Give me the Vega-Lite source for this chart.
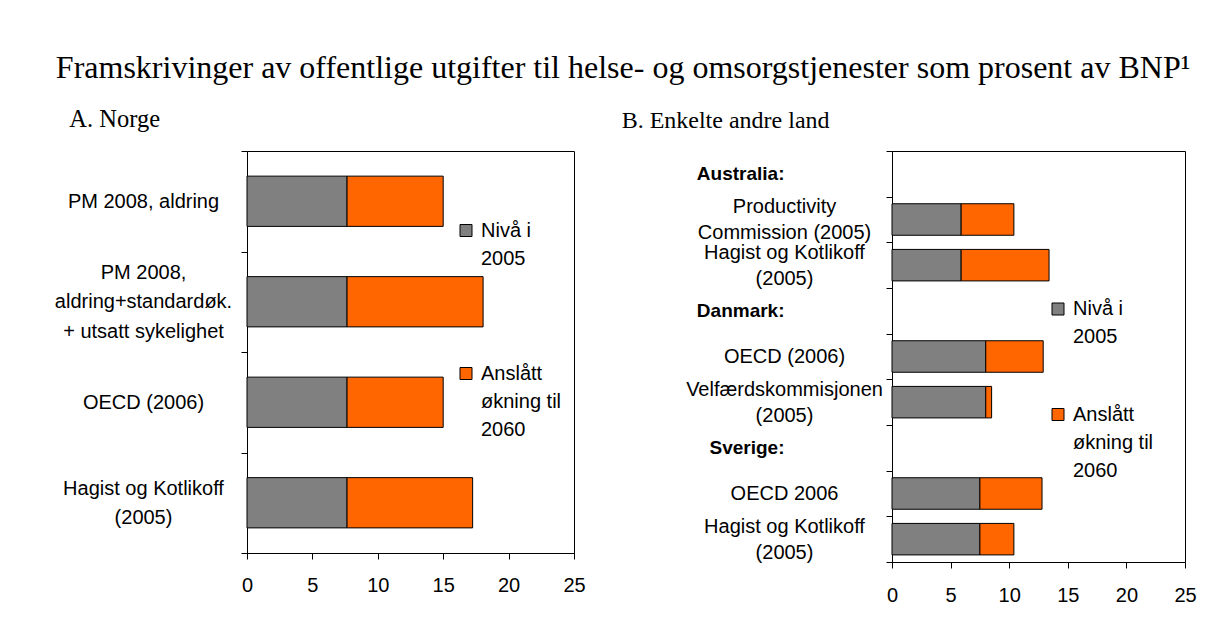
{
  "$schema": "https://vega.github.io/schema/vega-lite/v6.json",
  "padding": {"left": 53, "top": 52, "right": 5, "bottom": 5},
  "background": "white",
  "title": {
    "text": "Framskrivinger av offentlige utgifter til helse- og omsorgstjenester som prosent av BNP¹",
    "font": "Liberation Serif", "fontSize": 32, "fontWeight": "normal", "color": "black",
    "anchor": "start", "frame": "bounds", "baseline": "alphabetic", "offset": -4, "dx": 2
  },
  "spacing": 35,
  "resolve": {"scale": {"color": "independent"}, "legend": {"color": "independent"}},
  "hconcat": [
    {
      "width": 327, "height": 402,
      "title": {"text": "A. Norge", "font": "Liberation Serif", "fontSize": 24.5, "fontWeight": "normal", "color": "black", "anchor": "start", "frame": "bounds", "baseline": "alphabetic", "offset": -10, "dx": 15},
      "data": {"values": [
        {"cat": "01PM 2008,  aldring", "serie": "Nivå i 2005", "value": 7.65},
        {"cat": "01PM 2008,  aldring", "serie": "Anslått økning til 2060", "value": 7.35},
        {"cat": "02PM 2008,|aldring+standardøk.|+ utsatt sykelighet", "serie": "Nivå i 2005", "value": 7.65},
        {"cat": "02PM 2008,|aldring+standardøk.|+ utsatt sykelighet", "serie": "Anslått økning til 2060", "value": 10.4},
        {"cat": "03OECD (2006)", "serie": "Nivå i 2005", "value": 7.65},
        {"cat": "03OECD (2006)", "serie": "Anslått økning til 2060", "value": 7.35},
        {"cat": "04Hagist og Kotlikoff|(2005)", "serie": "Nivå i 2005", "value": 7.65},
        {"cat": "04Hagist og Kotlikoff|(2005)", "serie": "Anslått økning til 2060", "value": 9.6}
      ]},
      "mark": {"type": "bar", "stroke": "black", "strokeWidth": 1, "height": {"band": 0.5}},
      "encoding": {
        "y": {
          "field": "cat", "type": "nominal",
          "scale": {"domain": ["01PM 2008,  aldring", "02PM 2008,|aldring+standardøk.|+ utsatt sykelighet", "03OECD (2006)", "04Hagist og Kotlikoff|(2005)"], "paddingInner": 0, "paddingOuter": 0},
          "axis": {
            "title": null, "labelExpr": "split(substring(datum.label, 2), '|')",
            "labelFont": "Liberation Sans", "labelFontSize": 20, "labelLineHeight": 29.5, "labelColor": "black",
            "labelLimit": 400, "labelOverlap": false, "tickBand": "extent", "tickSize": 6, "tickColor": "black",
            "domainColor": "black", "labelAlign": "center", "labelPadding": 98, "labelOffset": -14.75,
            "labelBaseline": {"condition": [
              {"test": "substring(datum.value,0,2)=='02'", "value": "line-bottom"},
              {"test": "substring(datum.value,0,2)=='01' || substring(datum.value,0,2)=='03'", "value": "line-top"}
            ], "value": "middle"}
          }
        },
        "x": {
          "field": "value", "type": "quantitative", "stack": "zero",
          "scale": {"domain": [0, 25], "nice": false},
          "axis": {"title": null, "values": [0, 5, 10, 15, 20, 25], "grid": false, "labelFont": "Liberation Sans", "labelFontSize": 20, "labelColor": "black", "tickSize": 6, "tickColor": "black", "domainColor": "black", "labelPadding": 16, "labelFlush": false}
        },
        "color": {
          "field": "serie", "type": "nominal",
          "scale": {"domain": ["Nivå i 2005", "Anslått økning til 2060"], "range": ["#808080", "#FF6600"]},
          "legend": {
            "title": null, "orient": "none", "legendX": 209, "legendY": 69.5, "direction": "vertical",
            "symbolType": "square", "symbolSize": 144, "symbolStrokeColor": "black", "symbolStrokeWidth": 1,
            "labelFont": "Liberation Sans", "labelFontSize": 20, "labelColor": "black",
            "labelLimit": 300, "labelOffset": 5, "rowPadding": 95,
            "labelExpr": "datum.label == 'Nivå i 2005' ? ['Nivå i', '2005'] : ['Anslått', 'økning til', '2060']"
          }
        },
        "order": {"field": "serie", "sort": "descending"}
      }
    },
    {
      "width": 293, "height": 411,
      "title": {"text": "B. Enkelte andre land", "font": "Liberation Serif", "fontSize": 24, "fontWeight": "normal", "color": "black", "anchor": "start", "frame": "bounds", "baseline": "alphabetic", "offset": -11, "dx": -64},
      "data": {"values": [
        {"cat": "02Productivity|Commission (2005)", "serie": "Nivå i 2005", "value": 5.9},
        {"cat": "02Productivity|Commission (2005)", "serie": "Anslått økning til 2060", "value": 4.5},
        {"cat": "03Hagist og Kotlikoff|(2005)", "serie": "Nivå i 2005", "value": 5.9},
        {"cat": "03Hagist og Kotlikoff|(2005)", "serie": "Anslått økning til 2060", "value": 7.5},
        {"cat": "05OECD (2006)", "serie": "Nivå i 2005", "value": 8.0},
        {"cat": "05OECD (2006)", "serie": "Anslått økning til 2060", "value": 4.9},
        {"cat": "06Velfærdskommisjonen|(2005)", "serie": "Nivå i 2005", "value": 8.0},
        {"cat": "06Velfærdskommisjonen|(2005)", "serie": "Anslått økning til 2060", "value": 0.5},
        {"cat": "08OECD 2006", "serie": "Nivå i 2005", "value": 7.5},
        {"cat": "08OECD 2006", "serie": "Anslått økning til 2060", "value": 5.3},
        {"cat": "09Hagist og Kotlikoff|(2005)", "serie": "Nivå i 2005", "value": 7.5},
        {"cat": "09Hagist og Kotlikoff|(2005)", "serie": "Anslått økning til 2060", "value": 2.9}
      ]},
      "mark": {"type": "bar", "stroke": "black", "strokeWidth": 1, "height": {"band": 0.69}},
      "encoding": {
        "y": {
          "field": "cat", "type": "nominal",
          "scale": {"domain": ["01Australia:", "02Productivity|Commission (2005)", "03Hagist og Kotlikoff|(2005)", "04Danmark:", "05OECD (2006)", "06Velfærdskommisjonen|(2005)", "07Sverige:", "08OECD 2006", "09Hagist og Kotlikoff|(2005)"], "paddingInner": 0, "paddingOuter": 0},
          "axis": {
            "title": null, "labelExpr": "split(substring(datum.label, 2), '|')",
            "labelFont": "Liberation Sans", "labelFontSize": 20, "labelLineHeight": 26, "labelColor": "black",
            "labelLimit": 400, "labelOverlap": false, "tickBand": "extent", "tickSize": 6, "tickColor": "black",
            "domainColor": "black", "labelPadding": 102, "labelOffset": -13,
            "labelAlign": {"condition": {"test": "substring(datum.value,0,2)=='01' || substring(datum.value,0,2)=='04' || substring(datum.value,0,2)=='07'", "value": "right"}, "value": "center"},
            "labelFontWeight": {"condition": {"test": "substring(datum.value,0,2)=='01' || substring(datum.value,0,2)=='04' || substring(datum.value,0,2)=='07'", "value": "bold"}, "value": "normal"},
            "labelFontSize": {"condition": {"test": "substring(datum.value,0,2)=='01' || substring(datum.value,0,2)=='04' || substring(datum.value,0,2)=='07'", "value": 19}, "value": 20},
            "labelBaseline": {"condition": {"test": "substring(datum.value,0,2)=='01' || substring(datum.value,0,2)=='04' || substring(datum.value,0,2)=='07' || substring(datum.value,0,2)=='05' || substring(datum.value,0,2)=='08'", "value": "line-top"}, "value": "middle"}
          }
        },
        "x": {
          "field": "value", "type": "quantitative", "stack": "zero",
          "scale": {"domain": [0, 25], "nice": false},
          "axis": {"title": null, "values": [0, 5, 10, 15, 20, 25], "grid": false, "labelFont": "Liberation Sans", "labelFontSize": 20, "labelColor": "black", "tickSize": 6, "tickColor": "black", "domainColor": "black", "labelPadding": 17, "labelFlush": false}
        },
        "color": {
          "field": "serie", "type": "nominal",
          "scale": {"domain": ["Nivå i 2005", "Anslått økning til 2060"], "range": ["#808080", "#FF6600"]},
          "legend": {
            "title": null, "orient": "none", "legendX": 156, "legendY": 148, "direction": "vertical",
            "symbolType": "square", "symbolSize": 144, "symbolStrokeColor": "black", "symbolStrokeWidth": 1,
            "labelFont": "Liberation Sans", "labelFontSize": 20, "labelColor": "black",
            "labelLimit": 300, "labelOffset": 5, "rowPadding": 57.5,
            "labelExpr": "datum.label == 'Nivå i 2005' ? ['Nivå i', '2005'] : ['Anslått', 'økning til', '2060']"
          }
        },
        "order": {"field": "serie", "sort": "descending"}
      }
    }
  ],
  "config": {
    "view": {"stroke": "black", "strokeWidth": 1},
    "axis": {"domainWidth": 1, "tickWidth": 1},
    "style": {"guide-label": {"lineHeight": 28}}
  }
}
